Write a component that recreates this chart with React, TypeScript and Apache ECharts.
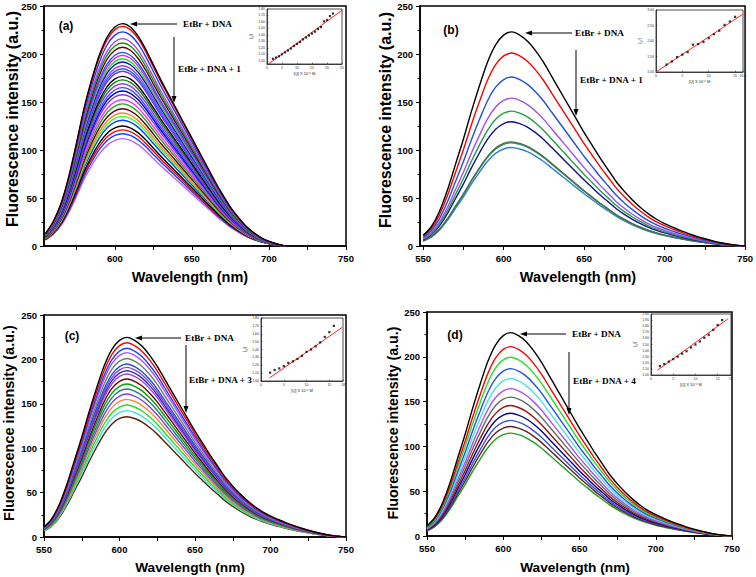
import React, { useEffect, useRef } from "react";
import * as echarts from "echarts";

// ---------- Data ----------
// Panel (a): wavelengths and normalized spectral shape
const WL_A = [555, 560, 565, 570, 575, 580, 585, 590, 595, 600, 605, 610, 615, 620, 625, 630, 635, 640, 645, 650, 655, 660, 665, 670, 675, 680, 685, 690, 695, 700, 705, 710];
const PROFILE_A = [0.056, 0.11, 0.19, 0.31, 0.46, 0.62, 0.75, 0.86, 0.94, 0.985, 1.0, 0.985, 0.945, 0.885, 0.815, 0.745, 0.68, 0.615, 0.55, 0.485, 0.42, 0.355, 0.29, 0.23, 0.175, 0.13, 0.09, 0.06, 0.037, 0.021, 0.009, 0.0];
const PEAKS_A = [231.6, 228.8, 223, 216, 211.5, 207, 201.7, 198.6, 195, 191.7, 187.8, 184.7, 182, 176.7, 173, 169, 165, 161.5, 157.6, 152.4, 148, 143, 138.5, 135, 131, 125, 121, 117, 111.8];
const COLORS_A = ["#000000", "#ff0000", "#1a3cff", "#b040ff", "#00a000", "#700000", "#2050ff", "#e020e0", "#20e020", "#0010c0", "#a040f0", "#2060ff", "#8030e0", "#000000", "#008a00", "#a030f0", "#3050ff", "#0000e0", "#8040d0", "#ff30ff", "#10b010", "#600010", "#ff8020", "#30ff30", "#1040ff", "#000000", "#ff0000", "#1040ff", "#c060ff"];

// Panels (b)-(d): wavelengths and normalized spectral shape
const WL_B = [550, 555, 560, 565, 570, 575, 580, 585, 590, 595, 600, 605, 610, 615, 620, 625, 630, 635, 640, 645, 650, 655, 660, 665, 670, 675, 680, 685, 690, 695, 700, 705, 710, 715, 720, 725, 730, 735, 740, 745, 750];
const PROFILE_B = [0.05, 0.09, 0.16, 0.26, 0.38, 0.5, 0.63, 0.75, 0.86, 0.94, 0.985, 1.0, 0.985, 0.955, 0.91, 0.855, 0.79, 0.725, 0.66, 0.595, 0.53, 0.47, 0.41, 0.355, 0.3, 0.255, 0.215, 0.18, 0.15, 0.125, 0.105, 0.088, 0.072, 0.058, 0.045, 0.034, 0.024, 0.015, 0.008, 0.003, 0.0];

const PEAKS_B = [223, 201, 176, 154, 140.5, 129.5, 108.5, 107.5, 102.6];
const COLORS_B = ["#000000", "#ff0000", "#2050e0", "#a050f0", "#20a040", "#101090", "#506850", "#20a060", "#3080d0"];

const PEAKS_C = [224.8, 218.8, 212.5, 207.6, 201, 194.8, 191, 187.3, 183.6, 178, 172.3, 166.7, 161, 155, 148.6, 142.3, 135.5];
const COLORS_C = ["#000000", "#ff0000", "#2040ff", "#b050ff", "#708060", "#2050e0", "#9040d0", "#3030c0", "#a040e0", "#700000", "#00a000", "#208080", "#8040e0", "#ff8040", "#20e020", "#40e0e0", "#602000"];

const PEAKS_D = [227, 211.4, 199.5, 186.8, 175.7, 164.5, 155, 145.6, 137, 129, 122.2, 114.8];
const COLORS_D = ["#000000", "#ff0000", "#20e020", "#2050f0", "#50e0e0", "#b050f0", "#607060", "#a01010", "#000090", "#4050e0", "#602020", "#20a020"];

// Insets (Stern-Volmer plots)
const INSET_A_X = [2, 3, 4, 5, 6, 7, 8, 9, 10, 11, 12, 13, 14, 15, 16, 17, 18, 19, 20, 21, 22];
const INSET_A_Y = [1.03, 1.05, 1.07, 1.1, 1.13, 1.16, 1.19, 1.23, 1.26, 1.29, 1.33, 1.36, 1.39, 1.42, 1.45, 1.49, 1.52, 1.61, 1.63, 1.69, 1.73];
const FIT_A = [[0.5, 0.95], [25, 1.78]];

const INSET_B_X = [2, 3, 4, 5, 6, 7, 8, 9, 10, 11, 12, 13, 14, 15];
const INSET_B_Y = [1.24, 1.34, 1.48, 1.56, 1.64, 1.88, 1.9, 1.97, 2.09, 2.22, 2.33, 2.52, 2.63, 2.78];
const FIT_B = [[0, 1.0], [16.5, 2.87]];

const INSET_C_X = [2, 3, 4, 5, 6, 7, 8, 9, 10, 11, 12, 13, 14, 15, 16];
const INSET_C_Y = [1.105, 1.14, 1.16, 1.19, 1.23, 1.25, 1.28, 1.32, 1.37, 1.4, 1.44, 1.49, 1.56, 1.62, 1.7];
const FIT_C = [[1.9, 1.04], [17.8, 1.68]];

const INSET_D_X = [2, 3, 4, 5, 6, 7, 8, 9, 10, 11, 12, 13, 14, 15, 16];
const INSET_D_Y = [1.146, 1.18, 1.22, 1.26, 1.3, 1.35, 1.39, 1.45, 1.5, 1.55, 1.61, 1.66, 1.74, 1.82, 1.9];
const FIT_D = [[1.5, 1.08], [17.3, 1.92]];

const X_TICKS_A = [575, 600, 625, 650, 675, 700, 725, 750];
const X_LABELS_A = [600, 650, 700, 750];
const X_TICKS_B = [550, 575, 600, 625, 650, 675, 700, 725, 750];
const X_LABELS_B = [550, 600, 650, 700, 750];

const SANS = "Liberation Sans, Arial, sans-serif";
const SERIF = "Liberation Serif, Times New Roman, serif";

function spectra(gridIndex: number, wl: number[], profile: number[], peaks: number[], colors: string[]) {
  return peaks.map((p, i) => ({
    type: "line",
    xAxisIndex: gridIndex,
    yAxisIndex: gridIndex,
    data: wl.map((w, k) => [w, +(p * profile[k]).toFixed(2)]),
    showSymbol: false,
    smooth: 0.3,
    lineStyle: { color: colors[i % colors.length], width: 1.4 },
    itemStyle: { color: colors[i % colors.length] },
    z: 2 + (peaks.length - i) * 0.01,
  }));
}

function mainX(gridIndex: number, min: number, max: number, ticks?: number[], labels?: number[]) {
  const ax: any = {
    gridIndex,
    type: "value",
    min,
    max,
    axisLine: { show: true, onZero: false, lineStyle: { color: "#000", width: 1.5 } },
    axisTick: { show: true, length: 4, lineStyle: { color: "#000", width: 1 } },
    axisLabel: { fontSize: 9.5, fontWeight: "bold", fontFamily: SANS, color: "#000", margin: 7 },
    splitLine: { show: false },
  };
  if (ticks) {
    ax.axisTick.customValues = ticks;
    ax.axisLabel.customValues = labels;
  } else {
    ax.interval = 50;
    ax.minorTick = { show: true, splitNumber: 2, length: 4, lineStyle: { color: "#000", width: 1 } };
  }
  return ax;
}

function mainY(gridIndex: number) {
  return {
    gridIndex,
    type: "value",
    min: 0,
    max: 250,
    interval: 50,
    axisLine: { show: true, lineStyle: { color: "#000", width: 1.5 } },
    axisTick: { show: true, length: 4, lineStyle: { color: "#000", width: 1 } },
    minorTick: { show: true, splitNumber: 2, length: 2.5, lineStyle: { color: "#000", width: 1 } },
    axisLabel: { fontSize: 9.5, fontWeight: "bold", fontFamily: SANS, color: "#000", margin: 7 },
    splitLine: { show: false },
  };
}

function insetAxes(gridIndex: number, xmax: number, ymin: number, ymax: number, yint: number, yLabels?: number[]) {
  const x: any = {
    gridIndex,
    type: "value",
    min: 0,
    max: xmax,
    interval: 5,
    name: "[Q] X 10⁻⁶ M",
    nameLocation: "middle",
    nameGap: 7,
    nameTextStyle: { fontSize: 4, fontFamily: SANS, color: "#222" },
    axisLine: { show: true, onZero: false, lineStyle: { color: "#222", width: 0.8 } },
    axisTick: { show: true, inside: true, length: 1.5, lineStyle: { color: "#222", width: 0.5 } },
    axisLabel: { fontSize: 3.5, fontFamily: SANS, color: "#333", margin: 2 },
    splitLine: { show: false },
  };
  const y: any = {
    gridIndex,
    type: "value",
    min: ymin,
    max: ymax,
    name: "I₀/I",
    nameLocation: "middle",
    nameGap: 8,
    nameRotate: 90,
    nameTextStyle: { fontSize: 4.5, fontFamily: SANS, color: "#222" },
    axisLine: { show: true, lineStyle: { color: "#222", width: 0.8 } },
    axisTick: { show: true, inside: true, length: 1.5, lineStyle: { color: "#222", width: 0.5 } },
    axisLabel: { fontSize: 3.5, fontFamily: SANS, color: "#333", margin: 2, formatter: (v: number) => v.toFixed(2) },
    splitLine: { show: false },
  };
  if (yLabels) {
    y.axisLabel.customValues = yLabels;
    y.axisTick.customValues = yLabels;
  } else {
    y.interval = yint;
  }
  return { x, y };
}

function insetSeries(gridIndex: number, xs: number[], ys: number[], fit: number[][]) {
  return [
    {
      type: "line",
      xAxisIndex: gridIndex,
      yAxisIndex: gridIndex,
      data: fit,
      showSymbol: false,
      lineStyle: { color: "#ff2020", width: 1 },
      z: 5,
    },
    {
      type: "scatter",
      xAxisIndex: gridIndex,
      yAxisIndex: gridIndex,
      data: xs.map((x, i) => [x, ys[i]]),
      symbol: "rect",
      symbolSize: 2.2,
      itemStyle: { color: "#000" },
      z: 6,
    },
  ];
}

function hArrow(xFrom: number, xTip: number, y: number) {
  return [
    { type: "line", shape: { x1: xFrom, y1: y, x2: xTip + 5, y2: y }, style: { stroke: "#000", lineWidth: 1 } },
    { type: "polygon", shape: { points: [[xTip, y], [xTip + 7, y - 2.5], [xTip + 7, y + 2.5]] }, style: { fill: "#000" } },
  ];
}

function vArrow(x: number, yFrom: number, yTip: number) {
  return [
    { type: "line", shape: { x1: x, y1: yFrom, x2: x, y2: yTip - 5 }, style: { stroke: "#000", lineWidth: 1 } },
    { type: "polygon", shape: { points: [[x, yTip], [x - 2.5, yTip - 7], [x + 2.5, yTip - 7]] }, style: { fill: "#000" } },
  ];
}

function txt(text: string, x: number, y: number, font: string, size: number, align = "left", rotate = 0) {
  return {
    type: "text",
    x,
    y,
    rotation: rotate,
    style: {
      text,
      fill: "#000",
      font: `bold ${size}px ${font}`,
      textAlign: align,
      textVerticalAlign: "middle",
    },
    z: 10,
  };
}

export default function App() {
  const ref = useRef<HTMLDivElement>(null);
  useEffect(() => {
    if (!ref.current) return;
    const chart = echarts.init(ref.current, undefined, { renderer: "svg" });

    const mainGrid = (left: number, top: number, width: number, height: number) => ({
      left,
      top,
      width,
      height,
      show: true,
      borderColor: "#000",
      borderWidth: 1.5,
      backgroundColor: "transparent",
    });
    const insetGrid = (left: number, top: number, width: number, height: number) => ({
      left,
      top,
      width,
      height,
      show: true,
      borderColor: "#222",
      borderWidth: 0.8,
      backgroundColor: "#fff",
    });

    const ia = insetAxes(4, 25, 0.95, 1.8, 0.1, [1.0, 1.1, 1.2, 1.3, 1.4, 1.5, 1.6, 1.7, 1.8]);
    const ib = insetAxes(5, 16.5, 1.0, 3.0, 0.5);
    const ic = insetAxes(6, 18, 1.0, 1.8, 0.1);
    const id = insetAxes(7, 18, 1.0, 2.0, 0.1);

    const SERIF_SIZE = 9.2;
    const graphic: any[] = [
      // panel (a)
      txt("(a)", 66, 26, SANS, 12, "center"),
      ...hArrow(177, 130, 24),
      txt("EtBr + DNA", 183, 24, SERIF, SERIF_SIZE),
      ...vArrow(174, 37, 103),
      txt("EtBr + DNA + 1", 178, 69, SERIF, SERIF_SIZE),
      txt("Fluorescence intensity (a.u.)", 12, 119, SANS, 16, "center", Math.PI / 2),
      txt("Wavelength (nm)", 190, 277, SANS, 14.5, "center"),
      // panel (b)
      txt("(b)", 451, 30, SANS, 12, "center"),
      ...hArrow(572, 525, 33),
      txt("EtBr + DNA", 575, 33, SERIF, SERIF_SIZE),
      ...vArrow(576, 50, 116),
      txt("EtBr + DNA + 1", 580, 80, SERIF, SERIF_SIZE),
      txt("Fluorescence intensity (a.u.)", 385, 120, SANS, 16, "center", Math.PI / 2),
      txt("Wavelength (nm)", 578, 277, SANS, 14.5, "center"),
      // panel (c)
      txt("(c)", 72, 336, SANS, 12, "center"),
      ...hArrow(181, 135, 338),
      txt("EtBr + DNA", 185, 338, SERIF, SERIF_SIZE),
      ...vArrow(186, 345, 413),
      txt("EtBr + DNA + 3", 189, 380, SERIF, SERIF_SIZE),
      txt("Fluorescence intensity (a.u.)", 9, 423, SANS, 14.5, "center", Math.PI / 2),
      txt("Wavelength (nm)", 190, 567, SANS, 13.7, "center"),
      // panel (d)
      txt("(d)", 455, 335, SANS, 12, "center"),
      ...hArrow(566, 520, 334),
      txt("EtBr + DNA", 572, 334, SERIF, SERIF_SIZE),
      ...vArrow(569, 352, 415),
      txt("EtBr + DNA + 4", 573, 381, SERIF, SERIF_SIZE),
      txt("Fluorescence intensity (a.u.)", 393, 423, SANS, 14.3, "center", Math.PI / 2),
      txt("Wavelength (nm)", 575, 567, SANS, 13.7, "center"),
    ];

    chart.setOption({
      animation: false,
      backgroundColor: "#fff",
      grid: [
        mainGrid(44, 6, 302, 240),
        mainGrid(420, 6, 327, 240),
        mainGrid(44, 315, 302, 222),
        mainGrid(427, 312, 305, 224),
        insetGrid(267, 9, 75, 55),
        insetGrid(656, 10, 87, 62),
        insetGrid(261, 318, 82, 63),
        insetGrid(651, 314, 80, 61),
      ],
      xAxis: [
        mainX(0, 554, 750, X_TICKS_A, X_LABELS_A),
        mainX(1, 548, 750, X_TICKS_B, X_LABELS_B),
        mainX(2, 550, 750),
        mainX(3, 550, 750),
        ia.x,
        ib.x,
        ic.x,
        id.x,
      ],
      yAxis: [mainY(0), mainY(1), mainY(2), mainY(3), ia.y, ib.y, ic.y, id.y],
      series: [
        ...spectra(0, WL_A, PROFILE_A, PEAKS_A, COLORS_A),
        ...spectra(1, WL_B, PROFILE_B, PEAKS_B, COLORS_B),
        ...spectra(2, WL_B, PROFILE_B, PEAKS_C, COLORS_C),
        ...spectra(3, WL_B, PROFILE_B, PEAKS_D, COLORS_D),
        ...insetSeries(4, INSET_A_X, INSET_A_Y, FIT_A),
        ...insetSeries(5, INSET_B_X, INSET_B_Y, FIT_B),
        ...insetSeries(6, INSET_C_X, INSET_C_Y, FIT_C),
        ...insetSeries(7, INSET_D_X, INSET_D_Y, FIT_D),
      ],
      graphic,
    });
    return () => chart.dispose();
  }, []);
  return (
    <div
      ref={ref}
      style={{ position: "fixed", left: 0, top: 0, width: 756, height: 577, background: "#fff" }}
    />
  );
}
